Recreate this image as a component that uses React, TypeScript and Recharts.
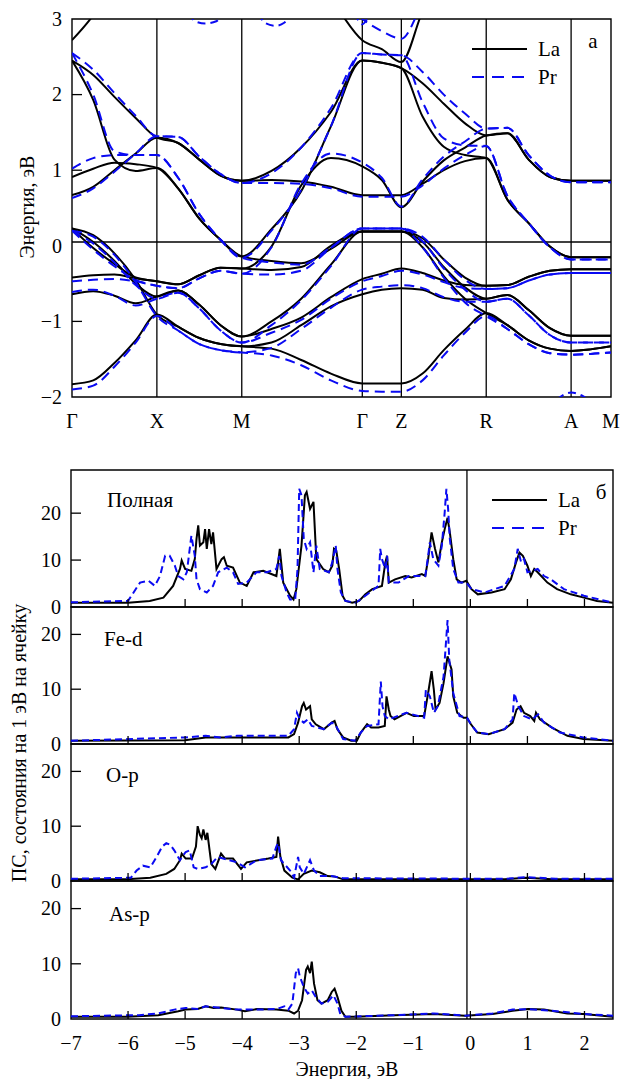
import { LineChart, Line, XAxis, YAxis, ReferenceLine, ReferenceArea } from "recharts";

const FONT = "Liberation Serif, Times New Roman, DejaVu Serif, serif";
const BLUE = "#0a0af2";
const txt = { fontFamily: FONT };

// --- (a) band structure ---------------------------------------------------
// positions along the k-path (Γ X M Γ Z R A M)
const kPath = [0, 0.25, 0.5, 0.75, 1, 1.25, 1.5, 1.75, 2, 2.35, 2.7, 3.05, 3.42, 3.65, 3.88, 4.13, 4.38, 4.63, 4.88, 5.13, 5.38, 5.63, 5.88, 6.11, 6.35];
const symPoints = [0, 1, 2, 3.42, 3.88, 4.88, 5.88, 6.35];
const symLabels = ["Γ", "X", "M", "Γ", "Z", "R", "A", "M"];

// LaFeAsO bands, eV
const laBands = [
  [2.72, 3.05, 3.5, 3.6, 3.6, 3.6, 3.6, 3.6, 3.6, 3.6, 3.6, 3.25, 2.72, 2.6, 2.43, 3.1, 3.6, 3.6, 3.6, 3.6, 3.6, 3.6, 3.6, 3.6, 3.6],
  [2.45, 2.26, 1.97, 1.69, 1.43, 1.36, 1.14, 0.93, 0.86, 0.99, 1.3, 1.77, 2.45, 2.42, 2.35, 2.15, 1.88, 1.62, 1.46, 1.49, 1.14, 0.91, 0.86, 0.86, 0.86],
  [2.45, 1.93, 1.14, 0.99, 1.03, 0.76, 0.36, 0.08, -0.14, 0.22, 0.72, 1.58, 2.45, 2.42, 2.35, 1.71, 1.31, 1.2, 1.16, 0.61, 0.3, -0.01, -0.15, -0.15, -0.15],
  [0.91, 1.02, 1.1, 1.08, 1.03, 0.76, 0.36, 0.08, -0.14, -0.2, -0.23, -0.04, 0.19, 0.19, 0.19, 0.1, -0.18, -0.42, -0.53, -0.52, -0.41, -0.33, -0.31, -0.31, -0.31],
  [0.67, 0.78, 1.0, 1.22, 1.43, 1.36, 1.14, 0.93, 0.86, 0.87, 0.85, 0.78, 0.67, 0.67, 0.67, 0.82, 1.0, 1.12, 1.16, 0.61, 0.3, -0.01, -0.15, -0.15, -0.15],
  [0.23, -0.03, -0.24, -0.42, -0.47, -0.51, -0.39, -0.29, -0.3, -0.01, 0.8, 1.16, 1.05, 0.87, 0.51, 0.85, 1.13, 1.3, 1.46, 1.49, 1.14, 0.91, 0.86, 0.86, 0.86],
  [-0.42, -0.39, -0.38, -0.43, -0.47, -0.51, -0.39, -0.29, -0.3, -0.32, -0.28, 0.0, 0.19, 0.19, 0.19, 0.05, -0.28, -0.55, -0.7, -0.65, -0.85, -1.09, -1.19, -1.19, -1.19],
  [0.23, 0.05, -0.2, -0.5, -0.67, -0.59, -0.78, -1.05, -1.2, -1.1, -0.95, -0.68, -0.44, -0.37, -0.3, -0.36, -0.46, -0.52, -0.53, -0.52, -0.41, -0.33, -0.31, -0.31, -0.31],
  [-0.64, -0.6, -0.66, -0.76, -0.67, -0.59, -0.78, -1.05, -1.2, -1.0, -0.7, -0.25, 0.19, 0.19, 0.19, -0.02, -0.4, -0.7, -0.89, -1.05, -1.25, -1.36, -1.39, -1.37, -1.33],
  [0.23, 0.14, -0.1, -0.45, -0.91, -1.07, -1.22, -1.3, -1.33, -1.28, -1.05, -0.8, -0.64, -0.58, -0.56, -0.58, -0.69, -0.71, -0.7, -0.65, -0.85, -1.09, -1.19, -1.19, -1.19],
  [-1.83, -1.78, -1.55, -1.25, -0.91, -1.07, -1.22, -1.3, -1.33, -1.36, -1.51, -1.69, -1.82, -1.82, -1.82, -1.69, -1.38, -1.11, -0.89, -1.05, -1.25, -1.36, -1.39, -1.37, -1.33],
];

// PrFeAsO bands, eV
const prBands = [
  [3.1, 3.5, 3.6, 3.6, 3.6, 3.6, 3.6, 3.6, 3.6, 3.6, 3.6, 3.4, 3.0, 2.84, 2.74, 3.2, 3.6, 3.6, 3.6, 3.6, 3.6, 3.6, 3.6, 3.6, 3.6],
  [2.55, 2.33, 2.02, 1.72, 1.45, 1.44, 1.18, 0.95, 0.83, 0.96, 1.3, 1.82, 2.55, 2.53, 2.52, 2.3, 2.0, 1.75, 1.55, 1.56, 1.2, 0.93, 0.84, 0.84, 0.84],
  [2.55, 2.0, 1.25, 1.2, 1.2, 0.9, 0.42, 0.08, -0.16, 0.2, 0.74, 1.58, 2.55, 2.53, 2.52, 1.9, 1.42, 1.33, 1.32, 0.66, 0.3, -0.02, -0.18, -0.18, -0.18],
  [1.02, 1.16, 1.2, 1.2, 1.2, 0.9, 0.42, 0.08, -0.16, -0.22, -0.25, -0.02, 0.23, 0.23, 0.23, 0.12, -0.18, -0.45, -0.57, -0.56, -0.46, -0.38, -0.36, -0.36, -0.36],
  [0.63, 0.76, 0.98, 1.22, 1.45, 1.44, 1.18, 0.95, 0.83, 0.83, 0.82, 0.76, 0.65, 0.65, 0.65, 0.8, 1.02, 1.2, 1.32, 0.66, 0.3, -0.02, -0.18, -0.18, -0.18],
  [0.2, -0.05, -0.27, -0.45, -0.53, -0.56, -0.43, -0.33, -0.37, -0.02, 0.82, 1.22, 1.1, 0.9, 0.52, 0.88, 1.18, 1.38, 1.55, 1.56, 1.2, 0.93, 0.84, 0.84, 0.84],
  [-0.47, -0.45, -0.44, -0.47, -0.53, -0.56, -0.43, -0.33, -0.37, -0.38, -0.33, -0.03, 0.23, 0.23, 0.23, 0.06, -0.3, -0.58, -0.74, -0.7, -0.92, -1.18, -1.28, -1.28, -1.28],
  [0.2, 0.03, -0.22, -0.52, -0.7, -0.62, -0.83, -1.12, -1.28, -1.15, -0.98, -0.7, -0.47, -0.4, -0.33, -0.38, -0.48, -0.56, -0.57, -0.56, -0.46, -0.38, -0.36, -0.36, -0.36],
  [-0.61, -0.58, -0.66, -0.79, -0.7, -0.62, -0.83, -1.12, -1.28, -1.05, -0.72, -0.27, 0.23, 0.23, 0.23, -0.02, -0.42, -0.75, -0.93, -1.1, -1.3, -1.42, -1.44, -1.43, -1.41],
  [0.2, 0.12, -0.12, -0.48, -0.93, -1.12, -1.3, -1.38, -1.41, -1.35, -1.1, -0.82, -0.58, -0.54, -0.52, -0.56, -0.68, -0.74, -0.74, -0.7, -0.92, -1.18, -1.28, -1.28, -1.28],
  [-1.9, -1.85, -1.6, -1.28, -0.93, -1.12, -1.3, -1.38, -1.41, -1.45, -1.58, -1.78, -1.92, -1.93, -1.93, -1.78, -1.45, -1.15, -0.93, -1.1, -1.3, -1.42, -1.44, -1.43, -1.41],
];

// short Pr pieces that only touch the frame (k, eV)
const prArcs = [
  [[1.38, 3.08], [1.45, 2.97], [1.57, 2.94], [1.7, 2.97], [1.78, 3.08]],
  [[2.2, 3.08], [2.27, 2.95], [2.4, 2.91], [2.5, 2.95], [2.57, 3.08]],
  [[3.33, 3.08], [3.38, 2.97], [3.42, 2.93], [3.46, 2.97], [3.51, 3.08]],
  [[5.6, -2.15], [5.75, -2.0], [5.88, -1.94], [6.02, -1.99], [6.15, -2.1]],
];

// --- (б) densities of states (energy eV, states per eV per cell) ---------
const totalLa = [[-7, 0.9], [-6, 0.9], [-5.62, 1.3], [-5.38, 2.0], [-5.21, 4.5], [-5.09, 8.1], [-5.06, 9.9], [-5.0, 8.1], [-4.89, 7.7], [-4.83, 10.2], [-4.8, 14.5], [-4.77, 17.4], [-4.74, 13.1], [-4.68, 13.8], [-4.65, 16.6], [-4.62, 12.4], [-4.58, 16.6], [-4.54, 13.4], [-4.51, 15.9], [-4.45, 8.1], [-4.36, 10.2], [-4.32, 10.6], [-4.27, 8.8], [-4.16, 8.4], [-4.04, 5.2], [-3.92, 4.5], [-3.8, 7.4], [-3.63, 7.7], [-3.4, 6.6], [-3.34, 12.4], [-3.28, 5.2], [-3.16, 2.4], [-3.1, 1.6], [-3.05, 3.8], [-2.96, 13.1], [-2.9, 23.8], [-2.87, 24.5], [-2.81, 20.9], [-2.75, 22.4], [-2.7, 10.2], [-2.58, 8.1], [-2.48, 7.4], [-2.42, 8.8], [-2.39, 12.4], [-2.35, 12.0], [-2.3, 8.1], [-2.24, 2.4], [-2.19, 1.3], [-2.07, 0.9], [-1.95, 1.3], [-1.84, 2.7], [-1.72, 3.8], [-1.55, 4.5], [-1.49, 9.5], [-1.46, 10.9], [-1.43, 5.2], [-1.32, 5.9], [-1.14, 6.6], [-1.03, 6.3], [-0.85, 7.0], [-0.79, 6.6], [-0.74, 10.2], [-0.68, 15.9], [-0.62, 12.4], [-0.56, 9.5], [-0.5, 13.8], [-0.45, 16.6], [-0.4, 19.0], [-0.36, 15.9], [-0.3, 10.2], [-0.24, 5.9], [-0.16, 5.2], [-0.07, 5.6], [0.02, 3.8], [0.13, 2.7], [0.37, 3.1], [0.6, 3.8], [0.71, 5.9], [0.8, 9.5], [0.86, 11.6], [0.92, 10.9], [1.0, 8.8], [1.06, 6.6], [1.12, 8.1], [1.18, 7.4], [1.35, 5.2], [1.52, 3.8], [1.76, 2.7], [1.99, 2.0], [2.22, 1.3], [2.5, 0.9]];
const totalPr = [[-7, 1.0], [-6, 1.3], [-5.79, 5.2], [-5.64, 5.6], [-5.53, 4.5], [-5.44, 6.6], [-5.35, 10.9], [-5.27, 10.9], [-5.18, 8.8], [-5.12, 6.6], [-5.03, 5.9], [-4.97, 7.4], [-4.89, 15.2], [-4.83, 10.9], [-4.8, 5.9], [-4.74, 3.8], [-4.62, 3.1], [-4.51, 4.5], [-4.42, 7.4], [-4.27, 8.4], [-4.16, 7.4], [-4.07, 4.9], [-3.92, 5.2], [-3.75, 7.4], [-3.57, 7.4], [-3.4, 8.1], [-3.35, 10.9], [-3.31, 6.6], [-3.22, 3.1], [-3.16, 1.6], [-3.07, 1.6], [-3.03, 8.1], [-3.0, 25.2], [-2.96, 23.8], [-2.92, 14.5], [-2.87, 12.4], [-2.81, 13.8], [-2.75, 7.4], [-2.7, 13.1], [-2.64, 8.1], [-2.48, 7.4], [-2.42, 9.5], [-2.36, 13.1], [-2.33, 8.1], [-2.27, 3.1], [-2.19, 1.3], [-2.01, 0.9], [-1.84, 2.4], [-1.61, 4.5], [-1.58, 12.4], [-1.55, 10.2], [-1.49, 8.1], [-1.46, 10.9], [-1.43, 5.2], [-1.26, 5.2], [-1.08, 6.6], [-0.79, 6.6], [-0.74, 10.9], [-0.71, 13.8], [-0.65, 10.2], [-0.56, 8.8], [-0.5, 13.1], [-0.45, 20.2], [-0.42, 25.2], [-0.39, 20.9], [-0.36, 14.5], [-0.3, 8.1], [-0.21, 5.2], [-0.07, 5.2], [0.02, 3.8], [0.25, 3.1], [0.6, 4.5], [0.77, 8.1], [0.83, 12.4], [0.89, 9.5], [0.94, 10.2], [1.0, 7.4], [1.18, 8.1], [1.29, 6.6], [1.41, 5.9], [1.64, 3.8], [1.99, 2.4], [2.5, 0.9]];
const fedLa = [[-7, 0.6], [-5.0, 0.7], [-4.64, 1.2], [-4.09, 1.2], [-3.19, 1.2], [-3.09, 1.8], [-3.02, 3.9], [-2.95, 6.9], [-2.92, 7.5], [-2.88, 6.3], [-2.81, 6.9], [-2.78, 4.5], [-2.71, 3.6], [-2.57, 2.7], [-2.43, 3.9], [-2.38, 4.2], [-2.33, 2.7], [-2.23, 1.2], [-2.09, 0.6], [-1.99, 0.6], [-1.92, 2.1], [-1.81, 3.6], [-1.74, 3.0], [-1.61, 3.0], [-1.5, 3.3], [-1.47, 8.7], [-1.43, 6.3], [-1.4, 5.1], [-1.33, 4.5], [-1.12, 5.7], [-0.99, 5.1], [-0.81, 5.1], [-0.74, 9.3], [-0.68, 13.3], [-0.64, 9.9], [-0.61, 6.3], [-0.54, 7.5], [-0.47, 11.1], [-0.4, 16.0], [-0.33, 13.6], [-0.3, 8.7], [-0.23, 5.7], [-0.12, 4.8], [-0.06, 4.8], [0.01, 3.6], [0.12, 2.1], [0.32, 1.8], [0.6, 2.7], [0.74, 3.9], [0.81, 6.3], [0.88, 6.9], [0.94, 5.7], [1.05, 5.1], [1.12, 4.2], [1.15, 5.7], [1.22, 4.5], [1.43, 3.0], [1.7, 1.5], [1.98, 0.9], [2.5, 0.6]];
const fedPr = [[-7, 0.6], [-4.99, 1.2], [-4.64, 1.5], [-4.37, 1.2], [-4.09, 1.5], [-3.19, 1.5], [-3.09, 2.7], [-3.04, 5.7], [-2.99, 4.5], [-2.92, 3.9], [-2.85, 4.5], [-2.78, 3.3], [-2.57, 2.7], [-2.43, 3.9], [-2.37, 3.6], [-2.23, 0.9], [-2.02, 0.6], [-1.92, 2.1], [-1.81, 3.3], [-1.61, 3.6], [-1.57, 11.4], [-1.54, 6.9], [-1.5, 5.1], [-1.43, 4.5], [-1.12, 5.7], [-0.81, 4.8], [-0.78, 9.9], [-0.71, 8.7], [-0.64, 5.7], [-0.57, 6.9], [-0.47, 12.3], [-0.4, 22.6], [-0.37, 15.4], [-0.3, 9.3], [-0.19, 5.1], [-0.06, 4.8], [0.01, 3.6], [0.12, 2.1], [0.32, 1.8], [0.6, 2.7], [0.74, 4.5], [0.77, 9.3], [0.84, 6.9], [0.94, 5.1], [1.08, 4.5], [1.19, 5.4], [1.29, 3.9], [1.57, 2.1], [1.98, 1.2], [2.5, 0.6]];
const opLa = [[-7, 0.3], [-6.02, 0.3], [-5.61, 0.6], [-5.33, 1.3], [-5.19, 2.2], [-5.09, 3.8], [-5.06, 5.0], [-4.99, 4.1], [-4.88, 4.1], [-4.81, 6.3], [-4.78, 10.0], [-4.74, 8.4], [-4.71, 7.8], [-4.68, 9.4], [-4.64, 7.5], [-4.61, 8.8], [-4.54, 3.1], [-4.47, 2.2], [-4.37, 5.0], [-4.3, 4.1], [-4.16, 4.1], [-4.02, 2.2], [-3.92, 3.4], [-3.54, 4.1], [-3.4, 4.4], [-3.37, 8.1], [-3.33, 4.4], [-3.26, 1.9], [-3.12, 0.6], [-3.02, 0.3], [-2.92, 1.3], [-2.78, 1.9], [-2.64, 1.6], [-2.5, 0.9], [-2.37, 0.8], [-2.23, 0.3], [0.6, 0.3], [0.98, 0.6], [1.43, 0.3], [2.5, 0.3]];
const opPr = [[-7, 0.4], [-5.95, 0.6], [-5.85, 1.9], [-5.74, 2.8], [-5.61, 2.5], [-5.5, 4.4], [-5.4, 6.3], [-5.33, 6.9], [-5.26, 6.6], [-5.19, 5.6], [-5.09, 3.8], [-4.99, 5.3], [-4.92, 5.6], [-4.85, 2.5], [-4.78, 2.2], [-4.64, 2.5], [-4.54, 3.1], [-4.43, 4.4], [-4.23, 3.8], [-4.09, 3.4], [-3.95, 2.5], [-3.74, 3.8], [-3.47, 4.1], [-3.4, 6.3], [-3.37, 6.9], [-3.32, 3.8], [-3.26, 3.1], [-3.16, 1.9], [-3.09, 0.6], [-3.02, 4.4], [-2.99, 2.5], [-2.92, 1.3], [-2.81, 3.8], [-2.74, 1.9], [-2.64, 0.9], [-2.43, 0.9], [-2.23, 0.5], [0.6, 0.4], [1.0, 0.7], [1.5, 0.4], [2.5, 0.4]];
const asLa = [[-7, 0.4], [-6.02, 0.4], [-5.47, 0.7], [-5.12, 1.4], [-4.99, 1.7], [-4.78, 1.8], [-4.64, 2.3], [-4.5, 2.0], [-4.37, 2.1], [-4.09, 1.7], [-3.95, 1.4], [-3.74, 1.8], [-3.4, 1.7], [-3.19, 1.5], [-3.09, 1.0], [-3.02, 1.5], [-2.95, 3.4], [-2.88, 8.9], [-2.85, 9.5], [-2.81, 8.3], [-2.78, 10.4], [-2.74, 6.4], [-2.68, 3.4], [-2.61, 2.8], [-2.5, 3.4], [-2.43, 4.9], [-2.38, 5.5], [-2.33, 4.0], [-2.26, 1.5], [-2.19, 0.4], [-2.02, 0.4], [-1.33, 0.7], [-0.64, 0.9], [-0.09, 0.6], [0.39, 0.9], [0.74, 1.5], [1.01, 1.8], [1.29, 1.7], [1.7, 1.0], [1.98, 0.9], [2.5, 0.4]];
const asPr = [[-7, 0.5], [-5.81, 0.7], [-5.47, 1.0], [-5.19, 1.7], [-4.99, 2.0], [-4.78, 1.8], [-4.64, 2.3], [-4.37, 2.0], [-4.09, 1.7], [-3.74, 1.7], [-3.4, 1.8], [-3.26, 2.3], [-3.19, 1.7], [-3.12, 2.8], [-3.06, 8.3], [-3.02, 9.2], [-2.99, 7.7], [-2.92, 5.8], [-2.85, 4.6], [-2.78, 5.2], [-2.71, 4.0], [-2.61, 2.8], [-2.5, 3.1], [-2.4, 4.3], [-2.33, 2.8], [-2.28, 0.9], [-2.19, 0.4], [-1.33, 0.7], [-0.64, 1.0], [-0.09, 0.6], [0.39, 1.0], [0.74, 1.7], [1.01, 1.8], [1.43, 1.5], [1.98, 0.9], [2.5, 0.6]];

const energyTicks = [-7, -6, -5, -4, -3, -2, -1, 0, 1, 2];

const fmt = (v: number) => (v < 0 ? `−${-v}` : `${v}`);
const toBand = (band: number[]) => kPath.map((k, i) => ({ x: k, y: band[i] }));
const toPoints = (pairs: number[][]) => pairs.map(([x, y]) => ({ x, y }));

const LeftTick = ({ x, y, payload, marks }: any) => (
  <g>
    {marks.includes(payload.value) && (
      <line x1={x} x2={x + 10} y1={y} y2={y} stroke="#000" strokeWidth={1.3} />
    )}
    <text x={x - 10} y={y} dy="0.34em" textAnchor="end" fontSize={20} style={txt} fill="#000">
      {fmt(payload.value)}
    </text>
  </g>
);

const SymTick = ({ x, y, payload }: any) => (
  <text x={x} y={y + 31} textAnchor="middle" fontSize={20} style={txt} fill="#000">
    {symLabels[symPoints.indexOf(payload.value)]}
  </text>
);

const EnergyTick = ({ x, y, payload, showLabel }: any) => (
  <g>
    {payload.value > -7 && <line x1={x} x2={x} y1={y} y2={y - 8} stroke="#000" strokeWidth={1.3} />}
    {showLabel && (
      <text x={x} y={y + 31} textAnchor="middle" fontSize={20} style={txt} fill="#000">
        {fmt(payload.value)}
      </text>
    )}
  </g>
);

const BandChart = () => (
  <LineChart width={621} height={440} margin={{ top: 19, right: 10, bottom: 13, left: 22 }}>
    <XAxis
      type="number"
      dataKey="x"
      domain={[0, 6.35]}
      ticks={symPoints}
      interval={0}
      allowDataOverflow
      axisLine={false}
      tickLine={false}
      tickSize={0}
      tickMargin={0}
      height={30}
      tick={(p: any) => <SymTick {...p} />}
    />
    <YAxis
      type="number"
      domain={[-2, 3]}
      ticks={[-2, -1, 0, 1, 2, 3]}
      interval={0}
      allowDataOverflow
      width={50}
      axisLine={false}
      tickLine={false}
      tickSize={0}
      tickMargin={0}
      tick={(p: any) => <LeftTick {...p} marks={[-1, 1, 2]} />}
    />
    <ReferenceArea x1={0} x2={6.35} y1={-2} y2={3} fill="none" stroke="#000" strokeWidth={1.4} />
    {symPoints.slice(1, -1).map((k) => (
      <ReferenceLine key={k} x={k} stroke="#000" strokeWidth={1.3} />
    ))}
    <ReferenceLine y={0.05} stroke="#000" strokeWidth={1.3} />
    {laBands.map((b, i) => (
      <Line key={`la${i}`} data={toBand(b)} dataKey="y" type="monotone" stroke="#000" strokeWidth={2} dot={false} isAnimationActive={false} />
    ))}
    {prBands.map((b, i) => (
      <Line key={`pr${i}`} data={toBand(b)} dataKey="y" type="monotone" stroke={BLUE} strokeWidth={2} strokeDasharray="10 6" dot={false} isAnimationActive={false} />
    ))}
    {prArcs.map((a, i) => (
      <Line key={`arc${i}`} data={toPoints(a)} dataKey="y" type="monotone" stroke={BLUE} strokeWidth={2} strokeDasharray="8 5" dot={false} isAnimationActive={false} />
    ))}
  </LineChart>
);

interface DosPanelProps {
  plotTop: number;
  plotHeight: number;
  yMax: number;
  la: number[][];
  pr: number[][];
  last?: boolean;
}

const DosPanel = ({ plotTop, plotHeight, yMax, la, pr, last }: DosPanelProps) => {
  const axisH = last ? 60 : 12;
  return (
    <div style={{ position: "absolute", left: 0, top: plotTop - 5 }}>
      <LineChart width={621} height={5 + plotHeight + axisH} margin={{ top: 5, right: 8, bottom: 0, left: 21 }}>
        <XAxis
          type="number"
          dataKey="x"
          domain={[-7, 2.5]}
          ticks={energyTicks}
          interval={0}
          allowDataOverflow
          axisLine={false}
          tickLine={false}
          tickSize={0}
          tickMargin={0}
          height={axisH}
          tick={(p: any) => <EnergyTick {...p} showLabel={last} />}
        />
        <YAxis
          type="number"
          domain={[0, yMax]}
          ticks={[0, 10, 20]}
          interval={0}
          allowDataOverflow
          width={50}
          axisLine={false}
          tickLine={false}
          tickSize={0}
          tickMargin={0}
          tick={(p: any) => <LeftTick {...p} marks={[10, 20]} />}
        />
        <ReferenceArea x1={-7} x2={2.5} y1={0} y2={yMax} fill="none" stroke="#000" strokeWidth={1.4} />
        <ReferenceLine x={-0.06} stroke="#000" strokeWidth={1.3} />
        <Line data={toPoints(la)} dataKey="y" type="linear" stroke="#000" strokeWidth={2} dot={false} isAnimationActive={false} />
        <Line data={toPoints(pr)} dataKey="y" type="linear" stroke={BLUE} strokeWidth={2} strokeDasharray="7 4" dot={false} isAnimationActive={false} />
      </LineChart>
    </div>
  );
};

const Legend = ({ x, y }: { x: number; y: number }) => (
  <g>
    <line x1={x} x2={x + 55} y1={y} y2={y} stroke="#000" strokeWidth={2} />
    <text x={x + 66} y={y + 7} fontSize={21} style={txt}>La</text>
    <line x1={x} x2={x + 55} y1={y + 28} y2={y + 28} stroke={BLUE} strokeWidth={2} strokeDasharray="12 8" />
    <text x={x + 66} y={y + 35} fontSize={21} style={txt}>Pr</text>
  </g>
);

const panelLabels = [
  { text: "Полная", x: 107, y: 507 },
  { text: "Fe-d", x: 104, y: 646 },
  { text: "O-p", x: 106, y: 782 },
  { text: "As-p", x: 109, y: 921 },
];

const App = () => (
  <div style={{ position: "absolute", left: 0, top: 0, width: 621, height: 1079, background: "#fff", fontFamily: FONT }}>
    <div style={{ position: "absolute", left: 0, top: 0 }}>
      <BandChart />
    </div>
    <DosPanel plotTop={470} plotHeight={137} yMax={29.2} la={totalLa} pr={totalPr} />
    <DosPanel plotTop={607} plotHeight={137} yMax={25} la={fedLa} pr={fedPr} />
    <DosPanel plotTop={744} plotHeight={137} yMax={25} la={opLa} pr={opPr} />
    <DosPanel plotTop={881} plotHeight={138} yMax={25} la={asLa} pr={asPr} last />
    <svg width={621} height={1079} style={{ position: "absolute", left: 0, top: 0, pointerEvents: "none" }}>
      <text transform="translate(34,207) rotate(-90)" textAnchor="middle" fontSize={20} style={txt}>
        Энергия, эВ
      </text>
      <Legend x={472} y={49} />
      <text x={593} y={48} textAnchor="middle" fontSize={21} style={txt}>а</text>
      <text transform="translate(26,743) rotate(-90)" textAnchor="middle" fontSize={20} style={txt}>
        ПС, состояния на 1 эВ на ячейку
      </text>
      <Legend x={492} y={500} />
      <text x={601} y={499} textAnchor="middle" fontSize={21} style={txt}>б</text>
      {panelLabels.map((l) => (
        <text key={l.text} x={l.x} y={l.y} fontSize={21} style={txt}>{l.text}</text>
      ))}
      <text x={347} y={1076} textAnchor="middle" fontSize={20} style={txt}>Энергия, эВ</text>
    </svg>
  </div>
);

export default App;
